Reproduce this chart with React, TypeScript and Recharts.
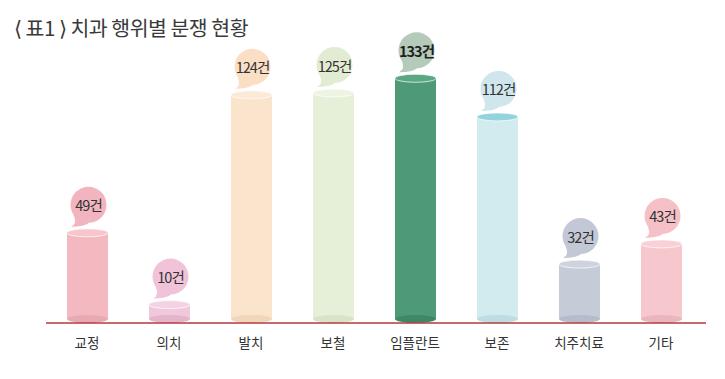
import React from "react";
import { Bar, BarChart, LabelList, XAxis, YAxis } from "recharts";

const categories = ["교정", "의치", "발치", "보철", "임플란트", "보존", "치주치료", "기타"];
const counts = [49, 10, 124, 125, 133, 112, 32, 43];
const unitLabel = "건";
const highlightIndex = 4;

const bodyColors = ["#f4b9c0", "#f1c7dc", "#fbe4cc", "#e6efd8", "#4e9a76", "#d2ebef", "#c6cbd8", "#f6c7cd"];
const topColors = ["#f7c6cc", "#f4d2e3", "#fcead7", "#edf4e2", "#5aa783", "#92d3de", "#cfd3de", "#f8d0d5"];
const baseColors = ["#e9a9b2", "#e4b3cc", "#f1d6bb", "#d8e3c7", "#3f8765", "#bddde3", "#b6bccb", "#ebb5bd"];
const bubbleColors = ["#f2b4be", "#f1c3d9", "#fbdfc5", "#e2ecd3", "#b4cbba", "#cfe7ec", "#c3c8d6", "#f5c0c8"];

const data = categories.map((name, i) => ({ name, count: counts[i] }));

function Cylinder(props: any) {
  const { x, y, width, height, index } = props;
  const cx = x + width / 2;
  const rx = width / 2;
  const ry = 4;
  const bottom = y + height - ry;
  return (
    <g>
      <rect x={x} y={y} width={width} height={Math.max(bottom - y, 0)} fill={bodyColors[index]} />
      <ellipse cx={cx} cy={bottom} rx={rx} ry={ry} fill={baseColors[index]} />
      <ellipse
        cx={cx}
        cy={y}
        rx={rx}
        ry={ry}
        fill={topColors[index]}
        stroke="#ffffff"
        strokeOpacity={0.7}
        strokeWidth={1}
      />
    </g>
  );
}

function Bubble(props: any) {
  const { x, y, width, value, index } = props;
  const r = 18;
  const cx = x + width / 2 + 1;
  const cy = y - 28;
  const tipX = x + 4;
  const tipY = y - 6;
  const a1 = (145 * Math.PI) / 180;
  const a2 = (88 * Math.PI) / 180;
  const tail =
    `M ${cx + r * Math.cos(a1)} ${cy + r * Math.sin(a1)} ` +
    `Q ${cx - 11} ${cy + r + 1} ${tipX} ${tipY} ` +
    `Q ${cx - 4} ${cy + r + 4} ${cx + r * Math.cos(a2)} ${cy + r * Math.sin(a2)} Z`;
  const bold = index === highlightIndex;
  return (
    <g>
      <path d={tail} fill={bubbleColors[index]} />
      <circle cx={cx} cy={cy} r={r} fill={bubbleColors[index]} />
      <text
        x={cx}
        y={cy}
        textAnchor="middle"
        dominantBaseline="central"
        fontSize={14.5}
        letterSpacing={-1}
        fontWeight={bold ? 700 : 400}
        fill={bold ? "#1f1f1f" : "#333333"}
        fontFamily="'Noto Sans CJK KR', 'Noto Sans', sans-serif"
      >
        {`${value}${unitLabel}`}
      </text>
    </g>
  );
}

export default function App() {
  return (
    <div
      style={{
        position: "absolute",
        left: 0,
        top: 0,
        width: 725,
        height: 379,
        background: "#ffffff",
        fontFamily: "'Noto Sans CJK KR', 'Noto Sans', sans-serif",
      }}
    >
      <div
        style={{
          position: "absolute",
          left: 14,
          top: 14,
          fontSize: 20.5,
          letterSpacing: -0.5,
          lineHeight: "26px",
          color: "#3a3a3a",
          whiteSpace: "nowrap",
        }}
      >
        ⟨ 표1 ⟩ 치과 행위별 분쟁 현황
      </div>
      <BarChart
        width={725}
        height={379}
        data={data}
        margin={{ top: 47, right: 19, left: 46, bottom: 0 }}
        barCategoryGap={0}
      >
        <YAxis hide domain={[0, 150]} />
        <XAxis
          dataKey="name"
          height={56}
          tickLine={false}
          tickMargin={9}
          padding={{ left: 0, right: 4 }}
          axisLine={{ stroke: "#b23a3a", strokeWidth: 1.5 }}
          tick={{ fill: "#333333", fontSize: 13.5, fontFamily: "'Noto Sans CJK KR', sans-serif" }}
        />
        <Bar dataKey="count" barSize={41} shape={<Cylinder />} isAnimationActive={false}>
          <LabelList dataKey="count" content={<Bubble />} />
        </Bar>
      </BarChart>
    </div>
  );
}
